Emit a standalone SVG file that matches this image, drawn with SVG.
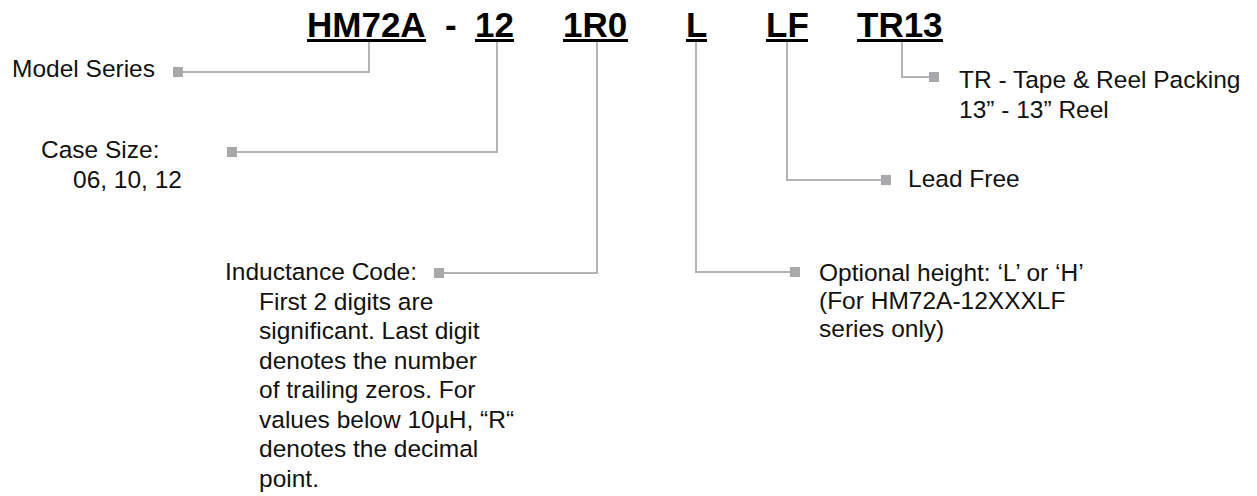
<svg xmlns="http://www.w3.org/2000/svg" width="1257" height="496" viewBox="0 0 1257 496">
<style>
.t{font-family:"Liberation Sans",Arial,sans-serif;font-size:24.5px;fill:#111}
.h{font-family:"Liberation Sans",Arial,sans-serif;font-size:35px;font-weight:bold;fill:#000}
.ln{fill:none;stroke:#b4b4b6;stroke-width:2}
.sq{fill:#a9a9ab}
.ul{fill:#000}
</style>
<rect width="1257" height="496" fill="#fff"/>
<g id="code">
<text class="h" x="307" y="37">HM72A</text>
<rect class="ul" x="307" y="39" width="119" height="3"/>
<text class="h" x="445" y="37">-</text>
<text class="h" x="475" y="37">12</text>
<rect class="ul" x="475" y="39" width="39" height="3"/>
<text class="h" x="563" y="37">1R0</text>
<rect class="ul" x="563" y="39" width="65" height="3"/>
<text class="h" x="686" y="37">L</text>
<rect class="ul" x="686" y="39" width="21" height="3"/>
<text class="h" x="766" y="37">LF</text>
<rect class="ul" x="766" y="39" width="42" height="3"/>
<text class="h" x="857" y="37">TR13</text>
<rect class="ul" x="857" y="39" width="86" height="3"/>
</g>
<g id="connectors">
<polyline class="ln" points="369,42 369,72 183,72"/>
<polyline class="ln" points="497,42 497,152 237,152"/>
<polyline class="ln" points="597,42 597,273 444,273"/>
<polyline class="ln" points="696,42 696,272 790,272"/>
<polyline class="ln" points="787,42 787,180 881,180"/>
<polyline class="ln" points="902,42 902,77 929,77"/>
<rect class="sq" x="173" y="67" width="10" height="10"/>
<rect class="sq" x="227" y="147" width="10" height="10"/>
<rect class="sq" x="434" y="268" width="10" height="10"/>
<rect class="sq" x="790" y="267" width="10" height="10"/>
<rect class="sq" x="881" y="175" width="10" height="10"/>
<rect class="sq" x="929" y="72" width="10" height="10"/>
</g>
<g id="model-series">
<text class="t" x="12" y="77">Model Series</text>
</g>
<g id="case-size">
<text class="t" x="41" y="158">Case Size:</text>
<text class="t" x="73" y="188">06, 10, 12</text>
</g>
<g id="inductance-code">
<text class="t" x="225" y="280">Inductance Code:</text>
<text class="t" x="259" y="309.5">First 2 digits are</text>
<text class="t" x="259" y="339">significant. Last digit</text>
<text class="t" x="259" y="368.5">denotes the number</text>
<text class="t" x="259" y="398">of trailing zeros. For</text>
<text class="t" x="259" y="427.5">values below 10µH, “R“</text>
<text class="t" x="259" y="457">denotes the decimal</text>
<text class="t" x="259" y="486.5">point.</text>
</g>
<g id="optional-height">
<text class="t" x="819" y="281">Optional height: ‘L’ or ‘H’</text>
<text class="t" x="819" y="309">(For HM72A-12XXXLF</text>
<text class="t" x="819" y="337">series only)</text>
</g>
<g id="lead-free">
<text class="t" x="908" y="187">Lead Free</text>
</g>
<g id="packing">
<text class="t" x="959" y="88">TR - Tape &amp; Reel Packing</text>
<text class="t" x="959" y="118">13” - 13” Reel</text>
</g>
</svg>
